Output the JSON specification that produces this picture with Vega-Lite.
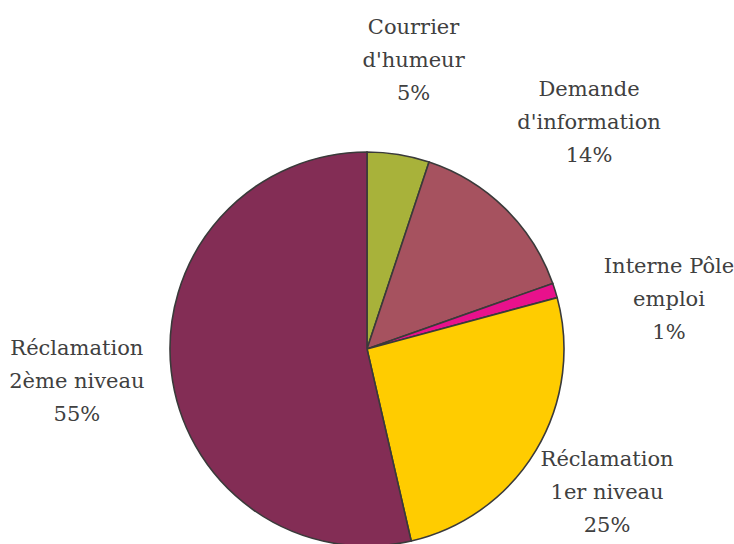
{
  "$schema": "https://vega.github.io/schema/vega-lite/v6.json",
  "width": 734,
  "height": 390,
  "padding": {"top": 154, "left": 0, "right": 0, "bottom": 0},
  "autosize": {"type": "none"},
  "background": "white",
  "view": {"stroke": null},
  "data": {
    "values": [
      {"categorie": "Courrier d'humeur", "part": 5.1, "etiquette": "Courrier\nd'humeur\n5%", "ordre": 1},
      {"categorie": "Demande d'information", "part": 14.5, "etiquette": "Demande\nd'information\n14%", "ordre": 2},
      {"categorie": "Interne Pôle emploi", "part": 1.2, "etiquette": "Interne Pôle\nemploi\n1%", "ordre": 3},
      {"categorie": "Réclamation 1er niveau", "part": 25.6, "etiquette": "Réclamation\n1er niveau\n25%", "ordre": 4},
      {"categorie": "Réclamation 2ème niveau", "part": 53.6, "etiquette": "Réclamation\n2ème niveau\n55%", "ordre": 5}
    ]
  },
  "encoding": {
    "theta": {"field": "part", "type": "quantitative", "stack": true},
    "order": {"field": "ordre", "type": "quantitative"}
  },
  "layer": [
    {
      "mark": {"type": "arc", "outerRadius": 197, "stroke": "#3a3a3a", "strokeWidth": 1.6},
      "encoding": {
        "color": {
          "field": "categorie",
          "type": "nominal",
          "scale": {
            "domain": ["Courrier d'humeur", "Demande d'information", "Interne Pôle emploi", "Réclamation 1er niveau", "Réclamation 2ème niveau"],
            "range": ["#A8B23A", "#A6525F", "#E8118C", "#FFCC00", "#832D55"]
          },
          "legend": null
        }
      }
    },
    {
      "mark": {
        "type": "text",
        "radius": 292,
        "thetaOffset": {"expr": "datum.categorie == 'Interne Pôle emploi' ? 0.14 : 0"},
        "radiusOffset": {"expr": "datum.categorie == \"Demande d'information\" ? 25 : (datum.categorie == 'Réclamation 1er niveau' ? -12 : (datum.categorie == 'Interne Pôle emploi' ? 14 : 0))"},
        "dy": -33,
        "font": "DejaVu Serif",
        "fontSize": 21,
        "lineBreak": "\n",
        "lineHeight": 33,
        "align": "center",
        "baseline": "middle",
        "color": "#404040"
      },
      "encoding": {
        "text": {"field": "etiquette", "type": "nominal"}
      }
    }
  ]
}
